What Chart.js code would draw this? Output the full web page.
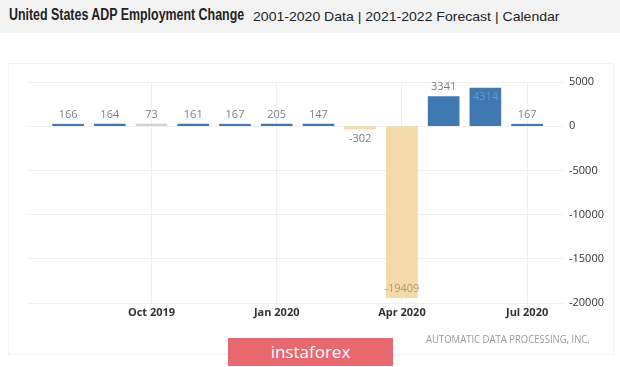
<!DOCTYPE html>
<html>
<head>
<meta charset="utf-8">
<script src="https://cdn.jsdelivr.net/npm/chart.js@4"></script>
<style>
  body { margin: 0; width: 620px; height: 367px; background: #fff; overflow: hidden; position: relative; font-family: "Liberation Sans", Arial, sans-serif; }
  #header { position: absolute; left: 0; top: 0; width: 620px; height: 33px; background: #f3f3f3; }
  .fit { position: absolute; white-space: nowrap; transform-origin: 0 0; color: #222; }
  #title { left: 9px; top: 6px; font-size: 16px; font-weight: bold; }
  #subtitle { left: 253px; top: 9px; font-size: 13px; }
  #panel { position: absolute; left: 8px; top: 63px; width: 604px; height: 290px; border: 1px solid #f2f2f2; }
  #source { left: 426px; top: 332px; font-size: 10.5px; color: #9a9a9a; font-family: "Open Sans", sans-serif; }
  #banner { position: absolute; left: 228px; top: 338px; width: 165px; height: 28px; background: #e7696f; color: #fff; text-align: center; font-family: "Open Sans", sans-serif; font-size: 17px; line-height: 27px; }
  #wrap { position: absolute; left: 0; top: 0; width: 620px; height: 367px; }
</style>
</head>
<body>
<div id="header">
  <span class="fit" id="title" data-w="235">United States ADP Employment Change</span>
  <span class="fit" id="subtitle" data-w="307">2001-2020 Data | 2021-2022 Forecast | Calendar</span>
</div>
<div id="panel"></div>
<div id="wrap"><canvas id="chart"></canvas></div>
<span class="fit" id="source" data-w="164">AUTOMATIC DATA PROCESSING, INC.</span>
<div id="banner">instaforex</div>
<script>
// monthly ADP change, thousands (Aug 2019 .. Jul 2020)
const months = ['Aug 2019', 'Sep 2019', 'Oct 2019', 'Nov 2019', 'Dec 2019', 'Jan 2020',
                'Feb 2020', 'Mar 2020', 'Apr 2020', 'May 2020', 'Jun 2020', 'Jul 2020'];
const changes = [166, 164, 73, 161, 167, 205, 147, -302, -19409, 3341, 4314, 167];
const tickMonths = ['Oct 2019', 'Jan 2020', 'Apr 2020', 'Jul 2020'];
const yTicks = [5000, 0, -5000, -10000, -15000, -20000];

// squeeze header / source text to the widths in the picture
document.querySelectorAll('.fit').forEach(el => {
    const w = +el.dataset.w;
    el.style.transform = 'scaleX(' + (w / el.offsetWidth) + ')';
});

const blue = '#4079b2', tan = '#f3daa8', grey = '#d2d2d2';
const barColors = changes.map((v, i) => i === 2 ? grey : (v < 0 ? tan : blue));

const valueLabels = {
    id: 'valueLabels',
    afterDatasetsDraw(chart) {
        const ctx = chart.ctx, area = chart.chartArea;
        const meta = chart.getDatasetMeta(0);
        ctx.save();
        ctx.font = '11px "Open Sans", sans-serif';
        ctx.textAlign = 'center';
        meta.data.forEach((bar, i) => {
            const v = changes[i];
            const txt = String(v);
            if (v >= 0) {
                if (bar.y - 13 < area.top) {
                    ctx.fillStyle = '#6e97c0';
                    ctx.textBaseline = 'top';
                    ctx.fillText(txt, bar.x, bar.y + 3);
                } else {
                    ctx.fillStyle = '#808080';
                    ctx.textBaseline = 'bottom';
                    ctx.fillText(txt, bar.x, bar.y - 4);
                }
            } else {
                if (bar.y + 18 > area.bottom) {
                    ctx.fillStyle = '#b09a72';
                    ctx.textBaseline = 'bottom';
                    ctx.fillText(txt, bar.x, bar.y - 3);
                } else {
                    ctx.fillStyle = '#808080';
                    ctx.textBaseline = 'top';
                    ctx.fillText(txt, bar.x, bar.y + 4);
                }
            }
        });
        ctx.restore();
    }
};

new Chart(document.getElementById('chart'), {
    type: 'bar',
    data: {
        datasets: [{
            data: changes.map((v, i) => ({ x: i, y: v })),
            backgroundColor: barColors,
            barThickness: 31,
            minBarLength: 2
        }]
    },
    options: {
        responsive: true,
        maintainAspectRatio: false,
        animation: false,
        layout: { padding: { left: 28, top: 82, right: 0, bottom: 34 } },
        plugins: { legend: { display: false }, tooltip: { enabled: false } },
        scales: {
            x: {
                type: 'linear',
                offset: false,
                min: -0.96,
                max: 11.86,
                afterBuildTicks(scale) {
                    scale.ticks = tickMonths.map(m => ({ value: months.indexOf(m) }));
                },
                afterFit(scale) { scale.height = 30; },
                ticks: {
                    callback: v => months[v],
                    color: '#333',
                    font: { family: '"Open Sans", sans-serif', size: 11, weight: 'bold' },
                    padding: 3,
                    maxRotation: 0
                },
                grid: { color: '#efefef', drawTicks: false, offset: false },
                border: { display: false }
            },
            y: {
                position: 'right',
                min: -20000,
                max: 5000,
                afterBuildTicks(scale) {
                    scale.ticks = yTicks.map(v => ({ value: v }));
                },
                afterFit(scale) { scale.width = 57; },
                ticks: {
                    callback: v => String(v),
                    color: '#333',
                    font: { family: '"Open Sans", sans-serif', size: 11 },
                    padding: 6
                },
                grid: { color: '#efefef', drawTicks: false },
                border: { display: false }
            }
        }
    },
    plugins: [valueLabels]
});
</script>
</body>
</html>
